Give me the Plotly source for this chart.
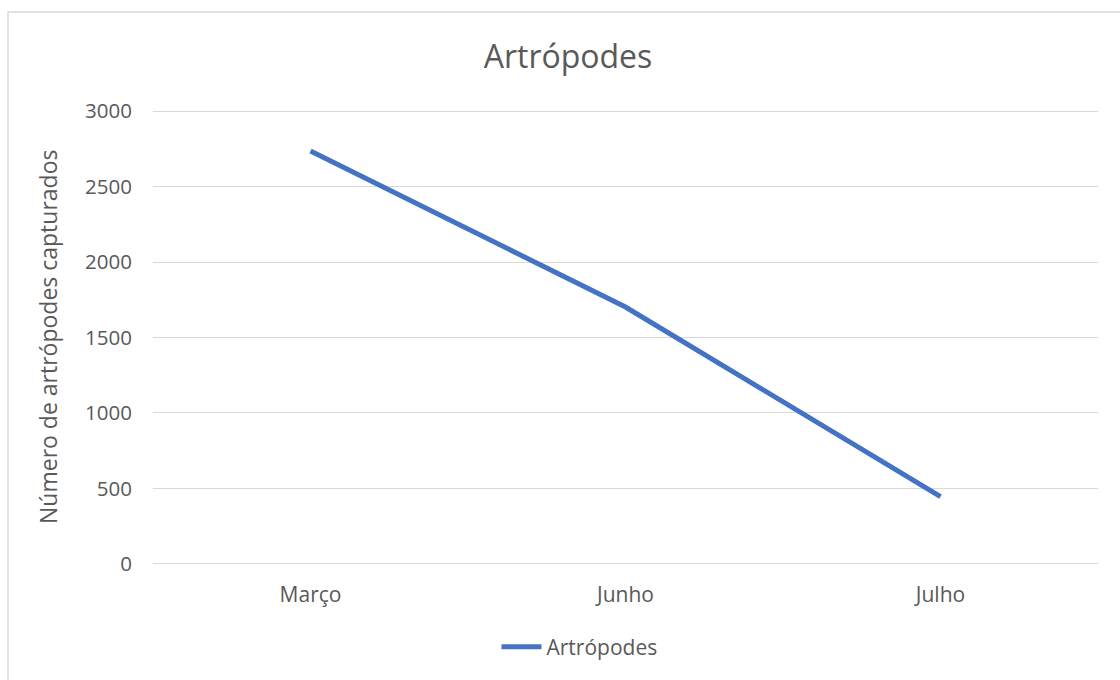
import plotly.graph_objects as go

months = ["Março", "Junho", "Julho"]
artropodes = [2735, 1702, 446]
y_ticks = [0, 500, 1000, 1500, 2000, 2500, 3000]

FONT = "Open Sans"
TXT = "#595959"

fig = go.Figure()
fig.add_trace(go.Scatter(
    x=months, y=artropodes, mode="lines", name="Artrópodes",
    line=dict(color="#4472C4", width=5),
))

PT, PB = 110, 115
PH = 680 - PT - PB

fig.update_layout(
    width=1120, height=680,
    margin=dict(l=153, r=22, t=PT, b=PB),
    paper_bgcolor="white", plot_bgcolor="white",
    font=dict(family=FONT, color=TXT, size=16),
    title=dict(text="Artrópodes", x=568 / 1120, xanchor="center", y=1 - 57 / 680,
               yanchor="middle", yref="container",
               font=dict(family=FONT, size=32, color=TXT)),
    showlegend=True,
    legend=dict(orientation="h", x=0.5 - 46 / 945, xanchor="center",
                y=(680 - PB - 647) / PH, yanchor="middle",
                font=dict(family=FONT, size=21, color=TXT), itemwidth=40,
                bgcolor="rgba(0,0,0,0)"),
    xaxis=dict(type="category", range=[-0.5, 2.5], showgrid=False, zeroline=False,
               showline=False, ticks="", tickfont=dict(size=21, color=TXT),
               ticklabelstandoff=15),
    yaxis=dict(range=[-7, 3007], tickvals=y_ticks, showgrid=True, gridcolor="#d9d9d9",
               gridwidth=1, zeroline=True, zerolinecolor="#d9d9d9", zerolinewidth=1,
               showline=False, ticks="",
               tickfont=dict(size=20.5, color=TXT), ticklabelstandoff=20),
    annotations=[dict(text="Número de artrópodes capturados", xref="paper", yref="paper",
                      x=(48 - 153) / 945, y=(680 - PB - 337) / PH,
                      xanchor="center", yanchor="middle",
                      textangle=-90, showarrow=False,
                      font=dict(family=FONT, size=23, color=TXT))],
    shapes=[dict(type="rect", xref="paper", yref="paper",
                 x0=(8 - 153) / 945, x1=1.3, y0=-0.5, y1=(680 - PB - 12) / PH,
                 line=dict(color="#d9d9d9", width=1.5), fillcolor="rgba(0,0,0,0)",
                 layer="below")],
)

fig.write_html("out.html")
